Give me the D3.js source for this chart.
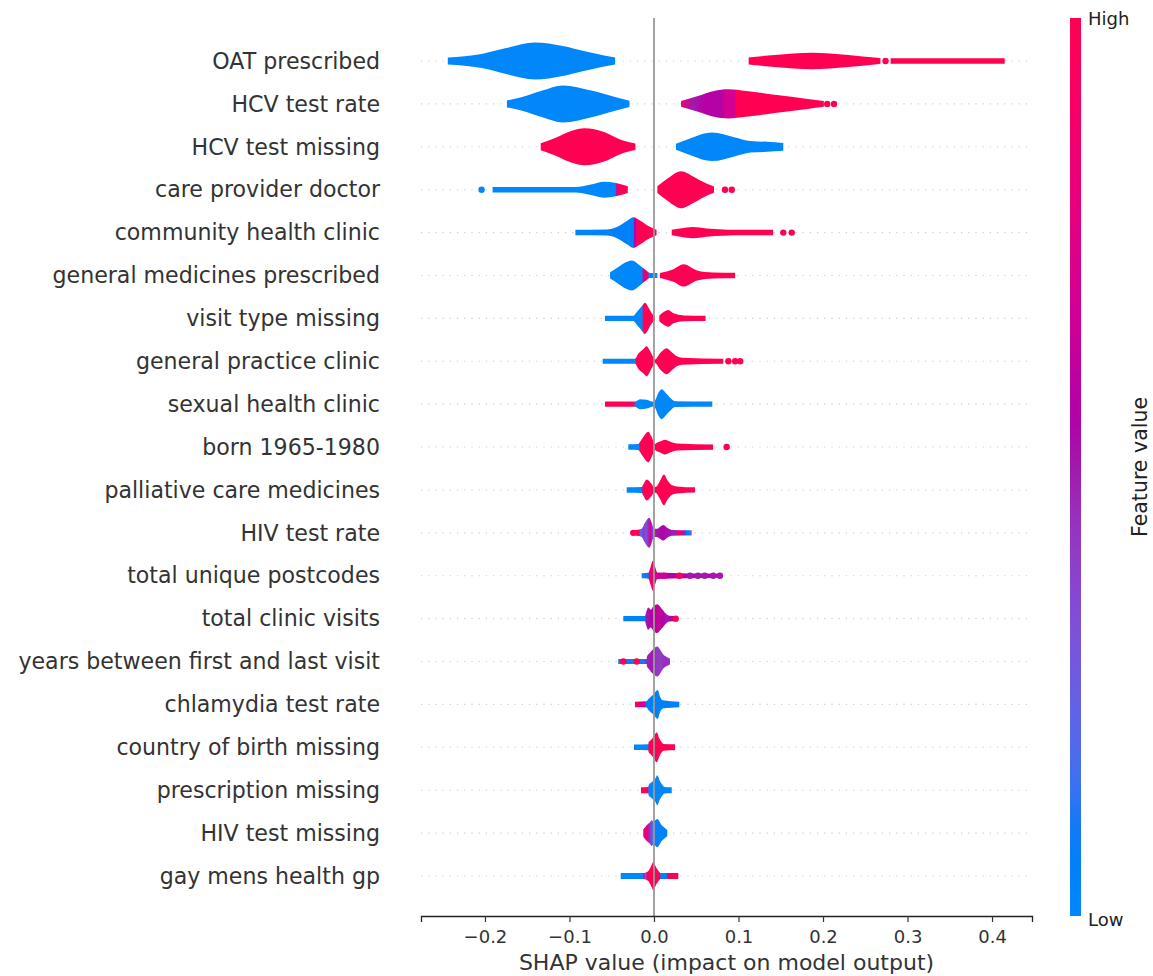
<!DOCTYPE html>
<html><head><meta charset="utf-8">
<script src="https://cdn.jsdelivr.net/npm/d3@7"></script>
<style>body{margin:0;background:#fff}text{font-family:"DejaVu Sans",sans-serif}</style>
</head><body><svg id="chart" width="1153" height="976"></svg>
<script>
const features = ["OAT prescribed","HCV test rate","HCV test missing","care provider doctor","community health clinic","general medicines prescribed","visit type missing","general practice clinic","sexual health clinic","born 1965-1980","palliative care medicines","HIV test rate","total unique postcodes","total clinic visits","years between first and last visit","chlamydia test rate","country of birth missing","prescription missing","HIV test missing","gay mens health gp"];

// per feature: list of violin pieces, each a list of [SHAP value, relative density]
const violinShapes = [
 [[[-0.244,0.19],[-0.204,0.38],[-0.175,0.7],[-0.141,1.0],[-0.108,0.81],[-0.083,0.54],[-0.059,0.3],[-0.046,0.19]],
  [[0.112,0.19],[0.143,0.33],[0.187,0.45],[0.230,0.33],[0.264,0.17],[0.268,0.15]],
  [[0.280,0.15],[0.415,0.15]]],
 [[[-0.174,0.19],[-0.156,0.37],[-0.132,0.72],[-0.108,1.0],[-0.074,0.72],[-0.045,0.36],[-0.029,0.17]],
  [[0.032,0.16],[0.052,0.43],[0.071,0.7],[0.088,0.79],[0.109,0.7],[0.143,0.49],[0.182,0.27],[0.201,0.16]]],
 [[[-0.134,0.19],[-0.117,0.47],[-0.098,0.85],[-0.082,1.0],[-0.059,0.8],[-0.040,0.4],[-0.022,0.18]],
  [[0.026,0.16],[0.037,0.35],[0.069,0.77],[0.095,0.52],[0.114,0.31],[0.134,0.27],[0.153,0.21]]],
 [[[-0.191,0.15],[-0.093,0.15],[-0.076,0.27],[-0.059,0.43],[-0.045,0.36],[-0.031,0.18]],
  [[0.004,0.18],[0.016,0.6],[0.032,1.0],[0.047,0.7],[0.056,0.47],[0.071,0.17]]],
 [[[-0.093,0.15],[-0.056,0.16],[-0.044,0.3],[-0.032,0.63],[-0.0245,0.83],[-0.0166,0.65],[-0.0067,0.35],[0.003,0.15]],
  [[0.021,0.15],[0.031,0.22],[0.046,0.3],[0.062,0.22],[0.082,0.17],[0.094,0.15],[0.141,0.15]]],
 [[[-0.052,0.17],[-0.044,0.4],[-0.036,0.65],[-0.026,0.81],[-0.017,0.55],[-0.011,0.33],[-0.007,0.19],[-0.005,0.14],[0.004,0.13]],
  [[0.007,0.13],[0.023,0.34],[0.035,0.6],[0.051,0.27],[0.070,0.16],[0.096,0.15]]],
 [[[-0.058,0.14],[-0.0245,0.14],[-0.0205,0.33],[-0.0146,0.65],[-0.0107,0.84],[-0.0067,0.6],[-0.0027,0.28],[0.0012,0.13]],
  [[0.0063,0.16],[0.011,0.33],[0.017,0.45],[0.023,0.27],[0.035,0.16],[0.061,0.14]]],
 [[[-0.0607,0.14],[-0.0225,0.14],[-0.0186,0.4],[-0.0127,0.65],[-0.0086,0.81],[-0.0047,0.55],[-0.0008,0.22],[0.0012,0.1],[0.0071,0.43],[0.015,0.7],[0.021,0.49],[0.027,0.27],[0.033,0.19],[0.082,0.14]]],
 [[[-0.058,0.14],[-0.0225,0.14],[-0.0166,0.27],[-0.0086,0.24],[-0.0008,0.13],[0.0012,0.2],[0.0051,0.6],[0.0091,0.81],[0.015,0.55],[0.021,0.27],[0.0249,0.16],[0.069,0.14]]],
 [[[-0.0304,0.15],[-0.0186,0.16],[-0.0174,0.22],[-0.0127,0.54],[-0.0067,0.83],[-0.0027,0.54],[0.0012,0.16],[0.0024,0.2],[0.0071,0.3],[0.013,0.4],[0.0189,0.3],[0.0269,0.19],[0.070,0.14]]],
 [[[-0.0323,0.15],[-0.0146,0.16],[-0.0127,0.3],[-0.0086,0.57],[-0.0027,0.32],[0.0,0.15],[0.0024,0.17],[0.0071,0.49],[0.0118,0.83],[0.0157,0.54],[0.021,0.27],[0.0269,0.19],[0.0485,0.14]]],
 [[[-0.0225,0.14],[-0.0146,0.22],[-0.0107,0.54],[-0.0056,0.81],[-0.0027,0.54],[0.0,0.22],[0.0032,0.22],[0.0071,0.32],[0.011,0.42],[0.0157,0.27],[0.021,0.16],[0.0446,0.14]]],
 [[[-0.0146,0.14],[-0.0067,0.16],[-0.0039,0.5],[-0.0015,0.81],[0.0012,0.5],[0.0039,0.18],[0.078,0.11]]],
 [[[-0.0363,0.14],[-0.0107,0.14],[-0.0098,0.27],[-0.0067,0.6],[-0.0039,0.48],[-0.0008,0.65],[0.0039,0.78],[0.0091,0.54],[0.0142,0.27],[0.0181,0.16],[0.0269,0.14]]],
 [[[-0.0423,0.14],[-0.0086,0.14],[-0.0083,0.27],[-0.0056,0.43],[-0.0015,0.65],[0.0039,0.81],[0.0079,0.6],[0.011,0.38],[0.0142,0.27],[0.0189,0.16]]],
 [[[-0.0225,0.15],[-0.0086,0.17],[-0.0071,0.27],[-0.0047,0.38],[-0.0008,0.54],[0.0044,0.78],[0.0071,0.43],[0.0103,0.22],[0.030,0.15]]],
 [[[-0.0237,0.15],[-0.0067,0.16],[-0.0064,0.27],[-0.0039,0.38],[0.0,0.6],[0.0032,0.81],[0.0063,0.49],[0.0091,0.27],[0.0112,0.18],[0.0249,0.16]]],
 [[[-0.0154,0.16],[-0.0067,0.17],[-0.0064,0.27],[-0.0027,0.43],[0.0012,0.6],[0.0039,0.81],[0.0071,0.49],[0.0103,0.27],[0.0124,0.18],[0.021,0.16]]],
 [[[-0.0127,0.2],[-0.0086,0.43],[-0.0056,0.54],[-0.0027,0.7],[-0.0008,0.62],[0.0039,0.76],[0.0091,0.43],[0.013,0.27],[0.0157,0.16]]],
 [[[-0.0394,0.16],[-0.0127,0.16],[-0.0067,0.27],[-0.0039,0.49],[-0.0008,0.76],[0.0024,0.49],[0.0063,0.22],[0.0077,0.16],[0.0288,0.16]]]
];

// per feature: [SHAP value, mean feature value (0 = low, 1 = high)] colour stops
const colorStops = [
 [[-0.3,0],[0,0],[0,1],[0.45,1]],
 [[-0.3,0],[0,0],[0.03,0.95],[0.046,0.5],[0.06,0.58],[0.08,0.55],[0.083,0.68],[0.096,0.7],[0.097,1],[0.45,1]],
 [[-0.3,1],[0,1],[0,0],[0.45,0]],
 [[-0.3,0],[-0.046,0],[-0.044,0.75],[-0.040,1],[0.45,1]],
 [[-0.3,0],[-0.0245,0.05],[-0.023,0.55],[-0.0195,1],[0.45,1]],
 [[-0.3,0],[-0.0146,0],[-0.012,0.7],[-0.009,0.9],[-0.007,0.9],[-0.006,0],[0.0045,0],[0.006,1],[0.45,1]],
 [[-0.3,0],[-0.0146,0],[-0.012,1],[0.45,1]],
 [[-0.3,0],[-0.0225,0],[-0.021,1],[0.45,1]],
 [[-0.3,1],[-0.024,1],[-0.022,0],[0.45,0]],
 [[-0.3,0],[-0.018,0],[-0.0165,1],[0.45,1]],
 [[-0.3,0],[-0.015,0],[-0.013,1],[0.45,1]],
 [[-0.3,1],[-0.018,1],[-0.016,0.2],[-0.012,0.42],[-0.009,0.3],[-0.007,0.45],[-0.004,0.68],[-0.002,0.4],[0.002,0.5],[0.01,0.55],[0.021,0.5],[0.0269,0.5],[0.028,1],[0.031,1],[0.032,0.5],[0.037,0.5],[0.038,0.05],[0.041,0.05],[0.042,0.3],[0.45,0.3]],
 [[-0.3,0.05],[-0.007,0.05],[-0.0055,0.8],[-0.003,0.85],[0.0,0.88],[0.004,0.7],[0.01,0.6],[0.02,0.55],[0.45,0.55]],
 [[-0.3,0.05],[-0.011,0.05],[-0.009,0.5],[-0.003,0.55],[0.002,0.6],[0.006,0.66],[0.01,0.55],[0.015,0.5],[0.02,0.55],[0.45,0.6]],
 [[-0.3,0.05],[-0.012,0.1],[-0.008,0.48],[-0.003,0.5],[0.003,0.42],[0.008,0.4],[0.012,0.45],[0.45,0.45]],
 [[-0.3,1],[-0.019,1],[-0.0175,0.65],[-0.011,0.65],[-0.009,0.05],[0.45,0.05]],
 [[-0.3,0],[-0.0075,0],[-0.006,1],[0.45,1]],
 [[-0.3,1],[-0.0075,1],[-0.006,0],[0.45,0]],
 [[-0.3,0.9],[-0.0127,0.9],[-0.008,0.75],[-0.005,0.45],[-0.002,0.2],[0.0,0.05],[0.45,0.05]],
 [[-0.3,0],[-0.0127,0],[-0.012,0.7],[-0.01,0.3],[-0.008,0.9],[-0.0065,1],[0.007,1],[0.008,0.05],[0.015,0.05],[0.0155,1],[0.45,1]]
];

// per feature: isolated points [SHAP value, feature value]
const outlierDots = [
 [[0.274,1]],
 [[0.205,1],[0.213,1]],
 [],
 [[-0.204,0],[0.084,1],[0.092,1]],
 [[0.153,1],[0.163,1]],
 [],
 [],
 [[0.088,1],[0.096,1],[0.102,1]],
 [],
 [[0.086,1]],
 [],
 [[-0.0245,1]],
 [[0.0118,0.7],[0.030,1.0],[0.0426,0.5],[0.052,0.5],[0.060,0.5],[0.070,0.5],[0.078,0.5]],
 [[0.0257,1]],
 [[-0.0363,1],[-0.0205,1]],
 [],[],[],[],[]
];

const xTicks = [-0.2,-0.1,0.0,0.1,0.2,0.3,0.4];
const xDomain = [-0.2757, 0.4473];

// SHAP red_blue colormap (Lch interpolation)
function shapColor(t){
  const l = t < 0.5 ? 54 + (40-54)*(t/0.5) : 40 + (54-40)*((t-0.5)/0.5);
  const c = 70 + 20*t;
  const h0 = 4.6588*180/Math.PI, h1 = (0.35470565+2*Math.PI)*180/Math.PI;
  const h = h0 + (h1-h0)*t;
  return d3.hcl(h, c, l).formatHex();
}

const svg = d3.select("#chart");
const x = d3.scaleLinear().domain(xDomain).range([421,1032]);
const y = d3.scalePoint().domain(features).range([61,876]);
const maxHalf = 18.5;
const axisY = 916, topY = 18;
const defs = svg.append("defs");

// grid lines
svg.append("g").selectAll("line").data(features).join("line")
  .attr("x1", x.range()[0]).attr("x2", x.range()[1])
  .attr("y1", d=>y(d)).attr("y2", d=>y(d))
  .attr("stroke","#cccccc").attr("stroke-width",1.1).attr("stroke-dasharray","1.2,6");

// feature gradients
features.forEach((f,i)=>{
  const g = defs.append("linearGradient").attr("id","vg"+i)
    .attr("gradientUnits","userSpaceOnUse")
    .attr("x1",x.range()[0]).attr("x2",x.range()[1]).attr("y1",0).attr("y2",0);
  colorStops[i].forEach(s=>{
    const off = Math.max(0, Math.min(1, (x(s[0]) - x.range()[0])/(x.range()[1]-x.range()[0])));
    g.append("stop").attr("offset",off).attr("stop-color",shapColor(s[1]));
  });
});

// violins
const vg = svg.append("g");
features.forEach((f,i)=>{
  const yc = y(f);
  const area = d3.area().curve(d3.curveMonotoneX)
    .x(d=>x(d[0])).y0(d=>yc - d[1]*maxHalf).y1(d=>yc + d[1]*maxHalf);
  vg.append("g").selectAll("path").data(violinShapes[i]).join("path")
    .attr("d", area).attr("fill","url(#vg"+i+")");
  vg.append("g").selectAll("circle").data(outlierDots[i]).join("circle")
    .attr("cx", d=>x(d[0])).attr("cy", yc).attr("r",3.2)
    .attr("fill", d=>shapColor(d[1]));
});

// zero line
svg.append("line").attr("x1",x(0)).attr("x2",x(0)).attr("y1",topY).attr("y2",axisY)
  .attr("stroke","#999999").attr("stroke-width",1.8);

// x axis
const ax = svg.append("g").attr("transform",`translate(0,${axisY})`)
  .call(d3.axisBottom(x).tickValues(xTicks).tickFormat(d3.format(".1f")).tickSizeOuter(0).tickSize(6).tickPadding(8));
ax.select(".domain").attr("stroke","#222").attr("stroke-width",1.3);
ax.selectAll(".tick line").attr("stroke","#333").attr("stroke-width",1.2);
ax.selectAll(".tick text").attr("fill","#333").attr("font-size","18px").attr("font-family","DejaVu Sans");

svg.append("text").attr("x",(x.range()[0]+x.range()[1])/2).attr("y",970)
  .attr("text-anchor","middle").attr("font-size","22px").attr("fill","#333")
  .text("SHAP value (impact on model output)");

// feature labels
svg.append("g").selectAll("text").data(features).join("text")
  .attr("x",380).attr("y",d=>y(d)).attr("dy","0.35em").attr("text-anchor","end")
  .attr("font-size","22.1px").attr("fill","#333").text(d=>d);

// colour bar
const cbg = defs.append("linearGradient").attr("id","cbar").attr("x1",0).attr("x2",0).attr("y1",1).attr("y2",0);
d3.range(0,1.0001,0.05).forEach(t=>cbg.append("stop").attr("offset",t).attr("stop-color",shapColor(t)));
svg.append("rect").attr("x",1070).attr("y",topY).attr("width",11).attr("height",axisY-topY).attr("fill","url(#cbar)");
svg.append("text").attr("x",1088).attr("y",25).attr("font-size","18px").attr("fill","#222").text("High");
svg.append("text").attr("x",1088).attr("y",926).attr("font-size","18px").attr("fill","#222").text("Low");
svg.append("text").attr("transform","translate(1140,467) rotate(-90)").attr("dy","0.35em")
  .attr("text-anchor","middle").attr("font-size","20.5px").attr("fill","#222").text("Feature value");
</script></body></html>
